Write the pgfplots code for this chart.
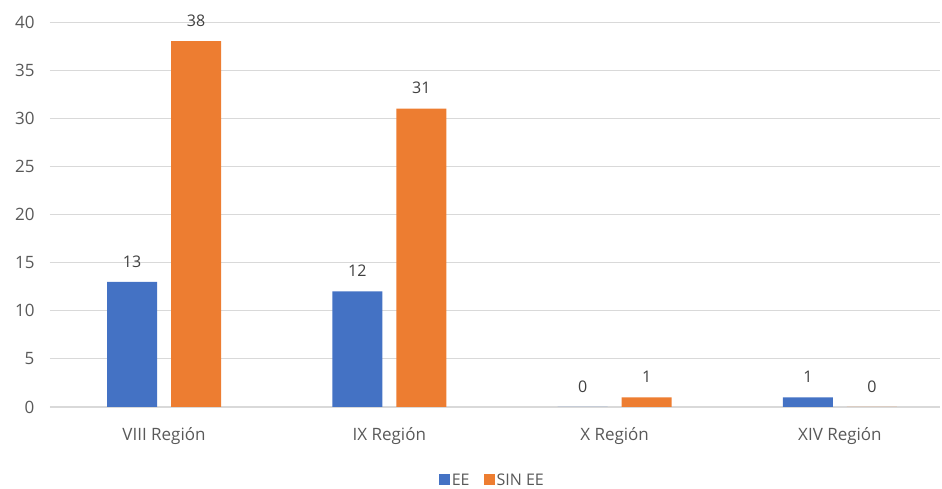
\documentclass[border=0pt]{standalone}
\usepackage{pgfplots}
\pgfplotsset{compat=1.18}
\usepackage{fontspec}
\setmainfont{Open Sans}
\definecolor{cblue}{HTML}{4472C4}
\definecolor{corange}{HTML}{ED7D31}
\definecolor{ctick}{HTML}{595959}
\definecolor{clab}{HTML}{404040}
\definecolor{cgrid}{HTML}{D9D9D9}
\begin{document}
\begin{tikzpicture}
\useasboundingbox (0,0) rectangle (942pt,489pt);
\begin{axis}[
  at={(50pt,82pt)}, anchor=south west,
  scale only axis, width=890pt, height=385pt,
  ybar=14pt, bar width=50pt,
  xmin=-0.506, xmax=3.444,
  ymin=0, ymax=40,
  ytick={0,5,...,40},
  xtick={0,1,2,3},
  xticklabels={VIII Región, IX Región, X Región, XIV Región},
  axis x line*=bottom, axis y line*=left,
  x axis line style={draw=cgrid, line width=1pt, -},
  y axis line style={draw=none},
  ymajorgrids, grid style={cgrid, line width=0.8pt},
  major tick length=0pt,
  tick style={draw=none},
  /pgf/number format/assume math mode=true,
  ticklabel style={font=\fontsize{17}{20}\selectfont, text=ctick},
  yticklabel style={xshift=-12pt},
  xticklabel style={yshift=-17pt},
  nodes near coords,
  nodes near coords style={font=\fontsize{16}{19}\selectfont, text=clab, yshift=11pt},
  legend style={at={(0.497,-0.19)}, anchor=center, legend columns=-1, draw=none,
    font=\fontsize{16}{19}\selectfont, text=ctick,
    /tikz/every even column/.append style={column sep=12pt}},
  legend image code/.code={\fill[#1] (0pt,-5pt) rectangle (11pt,6pt);},
]
\addplot[fill=cblue, draw=none] coordinates {(0,13) (1,12) (2,0) (3,1)};
\addplot[fill=corange, draw=none] coordinates {(0,38) (1,31) (2,1) (3,0)};
\legend{EE, SIN EE}
\end{axis}
\end{tikzpicture}
\end{document}
